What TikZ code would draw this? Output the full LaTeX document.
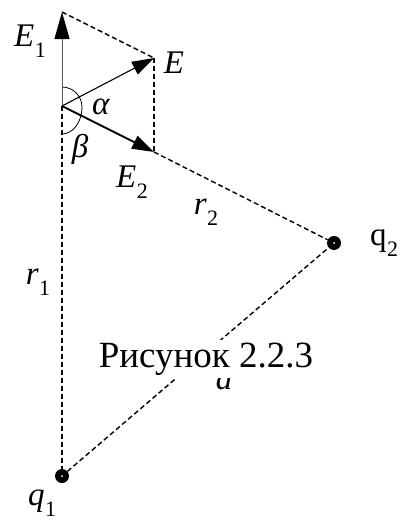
\documentclass[tikz,border=0pt]{standalone}
\usepackage{fontspec}
\setmainfont{Liberation Serif}
\newfontfamily\tnr{Liberation Serif}
\usetikzlibrary{arrows.meta}
\newcommand{\subl}[2]{#1\kern0.5pt\raisebox{-0.32em}{\fontsize{22}{22}\selectfont #2}}
\begin{document}
\begin{tikzpicture}[x=1pt,y=-1pt,
  dashline/.style={dashed,dash pattern=on 5pt off 3pt,line width=1.4pt},
  charge/.style={circle,fill=black,minimum size=14pt,inner sep=0pt,path picture={\fill[white] (path picture bounding box.center) circle (1pt);}},
  lab/.style={font=\tnr\fontsize{33}{33}\selectfont,inner sep=0pt}]
\useasboundingbox (0,0) rectangle (406,522);
\coordinate (P) at (62,106);
\coordinate (E1) at (62,12);
\coordinate (E) at (154,58);
\coordinate (E2) at (154,152);
\node[charge] (q2) at (334,243) {};
\node[charge] (q1) at (62,476) {};
% dashed construction lines
\draw[dashline] (E1) -- (E);
\draw[dashline] (E) -- (E2);
\draw[dashline] (E2) -- (q2);
\draw[dashline] (P) -- (q1);
\draw[dashline] (q1) -- (q2);
% angle arcs
\draw[line width=0.8pt] ([yshift=19pt]P) arc[start angle=90,end angle=0,radius=20pt]
  arc[start angle=0,end angle=-90,x radius=20pt,y radius=27pt];
% vectors
\draw[line width=0.9pt,black!65,-{Triangle[length=27pt,width=15pt,color=black]}] (P) -- (E1);
\draw[line width=1.1pt,-{Triangle[length=22pt,width=14pt]}] (P) -- (E);
\draw[line width=2pt,-{Triangle[length=22pt,width=14pt]}] (P) -- (E2);
% labels
\node[lab] (lE1) at (30,41) {\subl{\textit{E}}{1}};
\node[lab] (lE) at (174,63) {\textit{E}};
\node[lab] (la) at (101,107) {\textit{α}};
\node[lab] (lb) at (80,149) {\textit{β}};
\node[lab] (lE2) at (132,182) {\subl{\textit{E}}{2}};
\node[lab] (lr2) at (206,212) {\subl{\textit{r}}{2}};
\node[lab] (lq2) at (384,243) {\subl{q}{2}};
\node[lab] (lr1) at (38,282) {\subl{\textit{r}}{1}};
\node[lab,anchor=base] (ld) at (224,389) {\textit{a}};
\node[lab] (lq1) at (42,503) {\subl{\textit{q}}{1}};
\node[font=\tnr\fontsize{37}{37}\selectfont,fill=white,inner xsep=1pt,inner ysep=3pt,anchor=base] (cap) at (206,367) {Рисунок 2.2.3};
\end{tikzpicture}
\end{document}
